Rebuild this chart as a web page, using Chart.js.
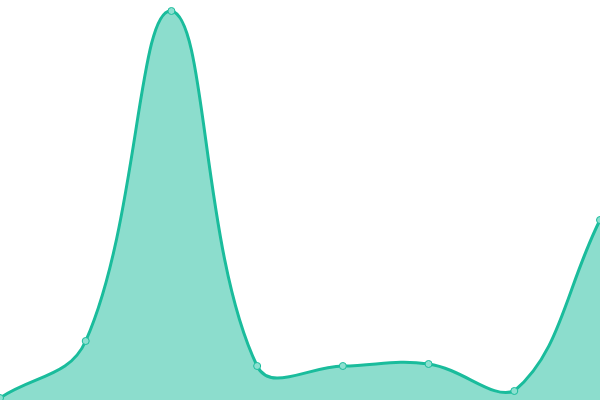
<!DOCTYPE html>
<html>
<head>
<meta charset="utf-8">
<script src="https://cdn.jsdelivr.net/npm/chart.js@4"></script>
<style>
  html, body { margin: 0; padding: 0; background: #fff; }
  #wrap { width: 600px; height: 400px; }
</style>
</head>
<body>
<div id="wrap"><canvas id="areaChart"></canvas></div>
<script>
const labels = ["1", "2", "3", "4", "5", "6", "7", "8"];
const values = [0.5, 14.75, 97.25, 8.5, 8.5, 9, 2.25, 45];
const yMin = 0;
const yMax = 100;

new Chart(document.getElementById("areaChart"), {
  type: "line",
  data: {
    labels: labels,
    datasets: [
      {
        data: values,
        borderColor: "#1abc9c",
        backgroundColor: "rgba(26, 188, 156, 0.5)",
        borderWidth: 3,
        fill: true,
        tension: 0.4,
        pointRadius: 3.5,
        pointBorderWidth: 1,
        pointBackgroundColor: "#8ce0d0",
        pointBorderColor: "#1abc9c"
      }
    ]
  },
  options: {
    responsive: true,
    maintainAspectRatio: false,
    animation: false,
    layout: { padding: 0, autoPadding: false },
    plugins: {
      legend: { display: false },
      tooltip: { enabled: false }
    },
    scales: {
      x: { display: false, offset: false },
      y: { display: false, min: yMin, max: yMax }
    }
  }
});
</script>
</body>
</html>
